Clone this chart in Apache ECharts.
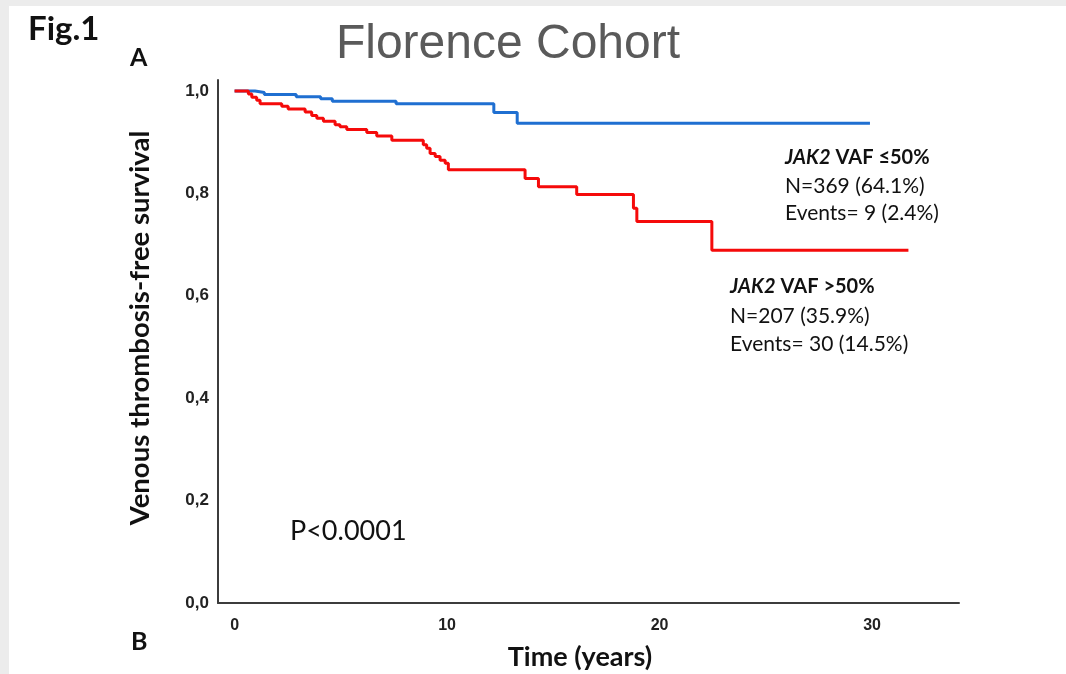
<!DOCTYPE html>
<html>
<head>
<meta charset="utf-8">
<title>Florence Cohort</title>
<script src="https://cdn.jsdelivr.net/npm/echarts@6/dist/echarts.min.js"></script>
<style>
  html, body { margin: 0; padding: 0; background: #ececec; }
  #paper { position: absolute; left: 9px; top: 6px; right: 0; bottom: 0; background: #ffffff; }
  #chart { position: absolute; left: 0; top: 0; width: 1066px; height: 674px; }
</style>
</head>
<body>
<div id="paper"></div>
<div id="chart"></div>
<script>
// Kaplan–Meier step data: time (years) of each drop and survival after it
const lowVafTimes = [0, 0.96, 1.4, 2.9, 4.05, 4.6, 7.6, 12.2, 13.3, 29.9];
const lowVafSurv  = [1.0, 0.997, 0.993, 0.989, 0.985, 0.980, 0.975, 0.958, 0.937, 0.937];

const highVafTimes = [0, 0.65, 0.81, 1.04, 1.2, 2.22, 2.52, 3.32, 3.63, 3.87, 4.18, 4.73, 4.96, 5.28,
  6.22, 6.69, 7.4, 8.88, 9.04, 9.2, 9.44, 9.67, 9.91, 10.06, 13.67, 14.3, 16.1, 18.77, 18.93, 22.46, 31.71];
const highVafSurv  = [1.0, 0.994, 0.988, 0.982, 0.975, 0.970, 0.965, 0.959, 0.952, 0.947, 0.941, 0.934, 0.930, 0.925,
  0.919, 0.912, 0.904, 0.895, 0.888, 0.878, 0.872, 0.865, 0.859, 0.846, 0.829, 0.813, 0.798, 0.771, 0.745, 0.689, 0.689];

const xTicks = [0, 10, 20, 30];
const yTicks = [0, 0.2, 0.4, 0.6, 0.8, 1.0];

const titleText = 'Florence Cohort';
const xTitle = 'Time (years)';
const yTitle = 'Venous thrombosis-free survival';
const lowVafLines = ['N=369 (64.1%)', 'Events= 9 (2.4%)'];
const highVafLines = ['N=207 (35.9%)', 'Events= 30 (14.5%)'];
const pValueText = 'P<0.0001';

const pairs = (xs, ys) => xs.map((x, i) => [x, ys[i]]);

const FONT = 'Lato, "Open Sans", sans-serif';
const TICK_FONT = '"Liberation Sans", Arial, sans-serif';
const BLUE = '#1f6fd1';
const RED = '#f50a0a';

const chart = echarts.init(document.getElementById('chart'), null, { renderer: 'canvas' });

function txt(text, x, y, opts) {
  return {
    type: 'text',
    x: x, y: y,
    rotation: opts.rotation || 0,
    style: Object.assign({
      text: text,
      fontFamily: FONT,
      fontSize: 20,
      fill: '#111',
      textAlign: 'left',
      textVerticalAlign: 'middle'
    }, opts.style || {})
  };
}

const headerRich = {
  i: { fontFamily: FONT, fontSize: 20, fontWeight: 'bold', fontStyle: 'italic', fill: '#111' },
  b: { fontFamily: FONT, fontSize: 20, fontWeight: 'bold', fill: '#111' }
};

const option = {
  animation: false,
  grid: { left: 218, right: 107, top: 80, bottom: 71, containLabel: false },
  xAxis: {
    type: 'value',
    min: -0.78,
    max: 34.09,
    splitLine: { show: false },
    axisTick: { show: false },
    axisLine: { show: true, onZero: false, lineStyle: { color: '#3c3c3c', width: 2 } },
    axisLabel: {
      customValues: xTicks,
      margin: 15,
      fontFamily: TICK_FONT,
      fontWeight: 'bold',
      fontSize: 16,
      color: '#222'
    }
  },
  yAxis: {
    type: 'value',
    min: 0,
    max: 1.0215,
    splitLine: { show: false },
    axisTick: { show: false },
    axisLine: { show: true, onZero: false, lineStyle: { color: '#3c3c3c', width: 2 } },
    axisLabel: {
      customValues: yTicks,
      margin: 9,
      fontFamily: TICK_FONT,
      fontWeight: 'bold',
      fontSize: 17,
      color: '#222',
      formatter: v => v.toFixed(1).replace('.', ',')
    }
  },
  series: [
    {
      name: 'JAK2 VAF ≤50%',
      type: 'line',
      step: 'end',
      symbol: 'none',
      data: pairs(lowVafTimes, lowVafSurv),
      lineStyle: { color: BLUE, width: 3 },
      z: 2
    },
    {
      name: 'JAK2 VAF >50%',
      type: 'line',
      step: 'end',
      symbol: 'none',
      data: pairs(highVafTimes, highVafSurv),
      lineStyle: { color: RED, width: 3 },
      z: 3
    }
  ],
  graphic: [
    txt('Fig.1', 28, 29, { style: { fontSize: 33, fontWeight: 'bold' } }),
    txt('A', 130, 58, { style: { fontSize: 25, fontWeight: 'bold' } }),
    txt('B', 131, 642, { style: { fontSize: 25, fontWeight: 'bold' } }),
    txt(titleText, 508, 45, { style: { fontSize: 48, fill: '#5a5a5a', textAlign: 'center', fontFamily: TICK_FONT } }),
    txt(yTitle, 140, 328, { rotation: Math.PI / 2, style: { fontSize: 27.5, fontWeight: 'bold', textAlign: 'center' } }),
    txt(xTitle, 580, 657, { style: { fontSize: 27, fontWeight: 'bold', textAlign: 'center' } }),
    txt(pValueText, 290, 531, { style: { fontSize: 27 } }),
    txt('{i|JAK2} {b|VAF ≤50%}', 785, 158, { style: { rich: headerRich } }),
    txt(lowVafLines[0], 785, 186, { style: { fontSize: 21 } }),
    txt(lowVafLines[1], 785, 213, { style: { fontSize: 21 } }),
    txt('{i|JAK2} {b|VAF >50%}', 730, 287, { style: { rich: headerRich } }),
    txt(highVafLines[0], 730, 316, { style: { fontSize: 21 } }),
    txt(highVafLines[1], 730, 344, { style: { fontSize: 21 } })
  ]
};

chart.setOption(option);
</script>
</body>
</html>
